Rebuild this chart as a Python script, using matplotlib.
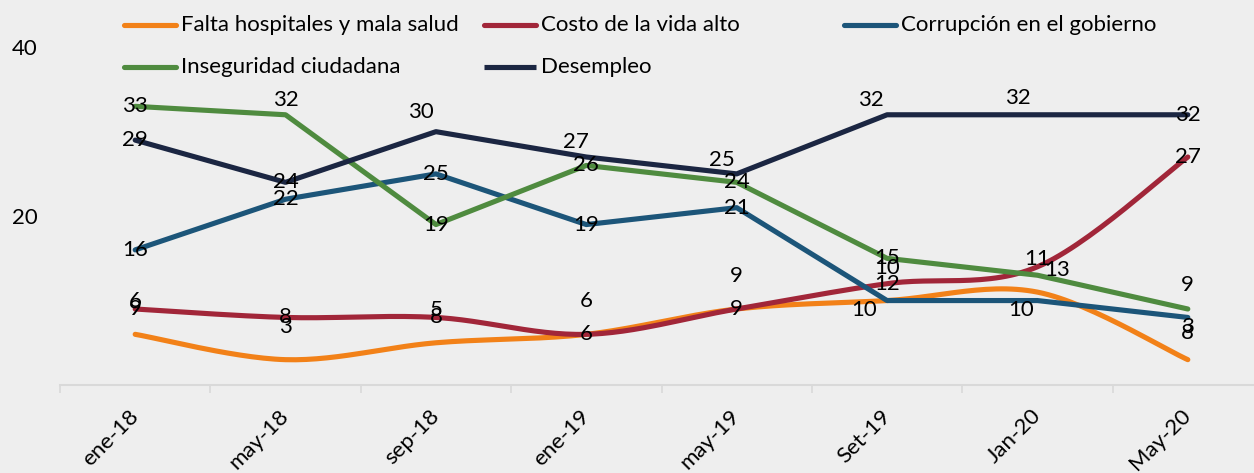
import numpy as np
import matplotlib
matplotlib.use('Agg')
import matplotlib.pyplot as plt
from matplotlib.lines import Line2D

plt.rcParams['font.family'] = ['Lato', 'DejaVu Sans']

# data
periods = ['ene-18', 'may-18', 'sep-18', 'ene-19', 'may-19', 'Set-19', 'Jan-20', 'May-20']
series_names = ['Falta hospitales y mala salud', 'Costo de la vida alto',
                'Corrupción en el gobierno', 'Inseguridad ciudadana', 'Desempleo']
hospitales = [6, 3, 5, 6, 9, 10, 11, 3]
costo_vida = [9, 8, 8, 6, 9, 12, 14, 27]
corrupcion = [16, 22, 25, 19, 21, 10, 10, 8]
inseguridad = [33, 32, 19, 26, 24, 15, 13, 9]
desempleo = [29, 24, 30, 27, 25, 32, 32, 32]

colors = ['#F28118', '#A12639', '#1C5579', '#4F8B3F', '#1B2642']
smooth = [True, True, False, False, False]

# label offsets in pixels (dx, dy up); None = label not shown
label_offsets = [
    [(0, 33)] * 8,
    [(0, 0)] * 6 + [None, (0, 0)],
    [(0, 0)] * 5 + [(-23, -9), (-16, -9), (0, -16)],
    [(0, 0), (0, 15), (0, 0), (0, 0), (0, 0), (0, 0), (20, 5), (0, 24)],
    [(0, 0), (0, 0), (-15, 20), (-10, 15), (-15, 14), (-16, 15), (-20, 17), (0, 0)],
]


def catmull(x, y, n=30):
    # smooth line through the points, like the spreadsheet "smoothed line" option
    x = np.asarray(x, float)
    y = np.asarray(y, float)
    px = np.concatenate([[x[0]], x, [x[-1]]])
    py = np.concatenate([[y[0]], y, [y[-1]]])
    xs, ys = [], []
    t = np.linspace(0, 1, n)
    for i in range(1, len(px) - 2):
        p0 = np.array([px[i], py[i]])
        p3 = np.array([px[i + 1], py[i + 1]])
        c1 = p0 + (p3 - np.array([px[i - 1], py[i - 1]])) / 6
        c2 = p3 - (np.array([px[i + 2], py[i + 2]]) - p0) / 6
        b = ((1 - t) ** 3)[:, None] * p0 + (3 * (1 - t) ** 2 * t)[:, None] * c1 \
            + (3 * (1 - t) * t ** 2)[:, None] * c2 + (t ** 3)[:, None] * p3
        xs.extend(b[:, 0])
        ys.extend(b[:, 1])
    return xs, ys


W, H = 1254, 473
bg = '#EEEEEE'
fs = 16
fig = plt.figure(figsize=(W / 100, H / 100), dpi=100, facecolor=bg)
ax = fig.add_axes([60 / W, 88 / H, 1203 / W, 380 / H])
ax.set_facecolor(bg)

x = np.arange(len(periods))
all_series = [hospitales, costo_vida, corrupcion, inseguridad, desempleo]
for vals, col, sm in zip(all_series, colors, smooth):
    if sm:
        xs, ys = catmull(x, vals)
    else:
        xs, ys = x, vals
    ax.plot(xs, ys, color=col, lw=3.7, solid_capstyle='round', solid_joinstyle='round', zorder=2)

for vals, offs in zip(all_series, label_offsets):
    for i, v in enumerate(vals):
        if offs[i] is None:
            continue
        dx, dy = offs[i]
        ax.annotate(str(v), (x[i], v), xytext=(dx * 0.72, dy * 0.72), textcoords='offset points',
                    ha='center', va='center', fontsize=fs, color='black', zorder=5)

ax.set_xlim(-0.5, 7.5)
ax.set_ylim(0, 45)
ax.set_yticks([20, 40])
ax.set_yticklabels(['20', '40'], fontsize=fs)
ax.tick_params(axis='y', length=0, pad=16)
ax.set_xticks(x)
ax.set_xticklabels(periods, rotation=45, ha='right', va='center', rotation_mode='anchor', fontsize=fs)
ax.tick_params(axis='x', length=0, pad=20)
ax.set_xticks(np.arange(-0.5, 7.6, 1), minor=True)
ax.tick_params(axis='x', which='minor', length=6, color='#D9D9D9', width=1.2)
for s in ['top', 'right', 'left']:
    ax.spines[s].set_visible(False)
ax.spines['bottom'].set_color('#D9D9D9')
ax.spines['bottom'].set_linewidth(1.5)

# legend, laid out like the original (equal column widths)
leg_pos = [(122, 25), (482, 25), (842, 25), (122, 67), (482, 67)]
for (lx, ly), name, col in zip(leg_pos, series_names, colors):
    cap = 'butt' if name == 'Desempleo' else 'round'
    fig.add_artist(Line2D([(lx + 2) / W, (lx + 54) / W], [1 - ly / H, 1 - ly / H],
                          color=col, lw=3.7, solid_capstyle=cap))
    fig.text((lx + 59) / W, 1 - ly / H, name, ha='left', va='center', fontsize=fs)

fig.savefig('out.png', dpi=100, facecolor=bg)
